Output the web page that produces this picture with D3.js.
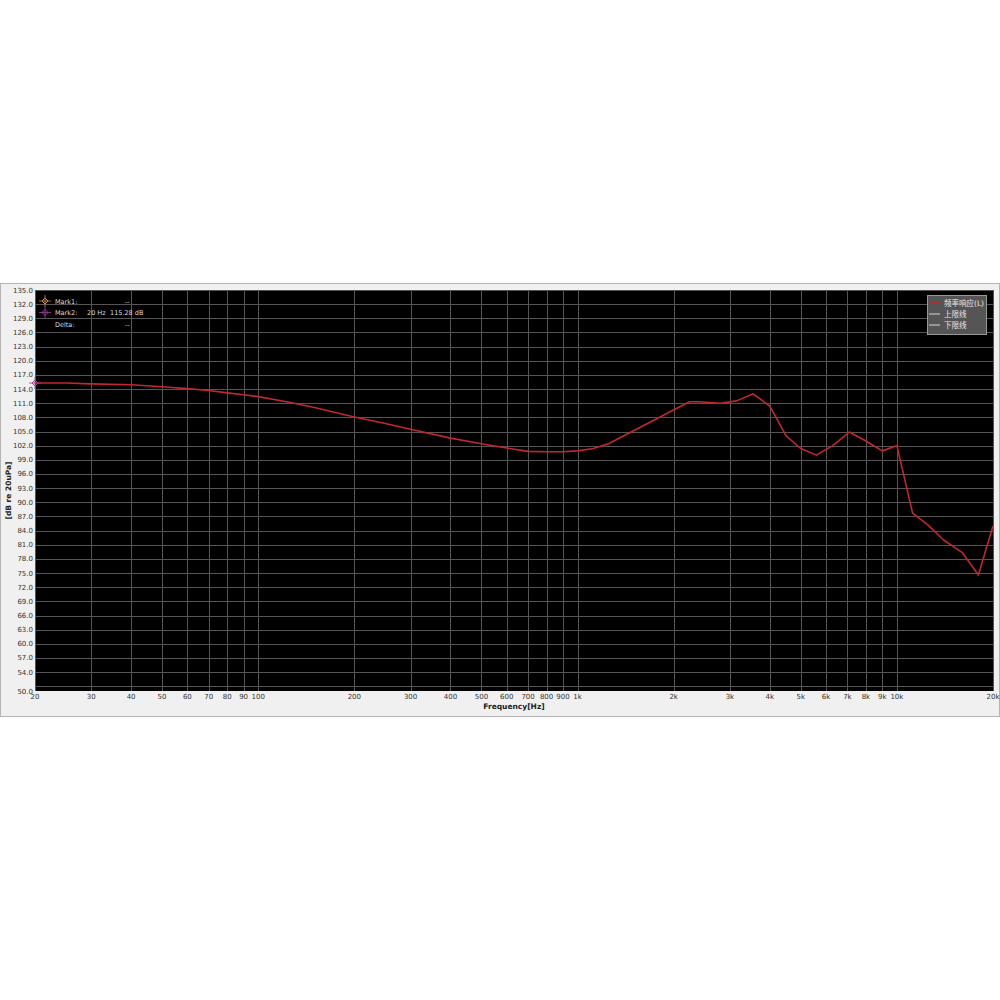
<!DOCTYPE html>
<html>
<head>
<meta charset="utf-8">
<style>
  body { margin: 0; background: #fff; }
  text { font-family: "DejaVu Sans", "Noto Sans CJK SC", sans-serif; }
</style>
</head>
<body>
<svg id="container" width="1000" height="1000"></svg>
<script src="https://cdn.jsdelivr.net/npm/d3@7"></script>
<script>
// frequency response
const freqs = [20, 25, 30, 40, 50, 60, 70, 80, 90, 100, 125, 150, 200, 250, 300, 400, 500, 600, 700, 800, 900, 1000, 1120, 1250,
    2240, 2400, 2800, 3150, 3550, 4000, 4500, 5000, 5600, 6300, 7100, 8000, 9000, 10000, 11200, 12500, 14000, 16000, 18000, 20000]
const levels = [115.28, 115.3, 115.1, 114.9, 114.5, 114.1, 113.7, 113.2, 112.8, 112.4, 111.2, 110.1, 108.1, 106.7, 105.5, 103.6, 102.4, 101.5, 100.8, 100.7, 100.7, 100.9, 101.4, 102.4,
    111.3, 111.3, 111.0, 111.5, 113.0, 110.4, 104.1, 101.4, 100.0, 102.0, 104.9, 103.0, 100.9, 102.0, 87.7, 85.2, 82.0, 79.4, 74.6, 85.0]

const xTicks = [20, 30, 40, 50, 60, 70, 80, 90, 100, 200, 300, 400, 500, 600, 700, 800, 900, 1000,
    2000, 3000, 4000, 5000, 6000, 7000, 8000, 9000, 10000, 20000]
const xTickLabels = ["20", "30", "40", "50", "60", "70", "80", "90", "100", "200", "300", "400", "500", "600", "700", "800", "900", "1k",
    "2k", "3k", "4k", "5k", "6k", "7k", "8k", "9k", "10k", "20k"]
const yGrid = d3.range(51, 136, 3)
const yTickLabels = d3.range(54, 136, 3).concat([50])

const legendNames = ["频率响应(L)", "上限线", "下限线"]
const legendColors = ["#c0282c", "#b8a4ac", "#b8a4ac"]

const markNames = ["Mark1:", "Mark2:", "Delta:"]
const markColors = ["#c88a3c", "#a03c98", null]
const markValues = [["", "--"], ["20 Hz", "115.28 dB"], ["", "--"]]

let svg = d3.select("#container")

let plotLeft = 35, plotRight = 993, plotTop = 290, plotBottom = 691

let x = d3.scaleLog().domain([20, 20000]).range([plotLeft, plotRight])
let y = d3.scaleLinear().domain([50, 135]).range([plotBottom, plotTop])

// outer panel
svg.append("rect")
    .attr("x", 0.5).attr("y", 283.5)
    .attr("width", 999).attr("height", 433)
    .attr("fill", "#f0f0f0")
    .attr("stroke", "#b4b4b4")

svg.append("rect")
    .attr("x", plotLeft).attr("y", plotTop)
    .attr("width", plotRight - plotLeft).attr("height", plotBottom - plotTop)
    .attr("fill", "#000")

let grid = svg.append("g").attr("stroke", "#555").attr("stroke-width", 1)
grid.selectAll(".vx").data(xTicks).enter().append("line")
    .attr("x1", d => Math.round(x(d)) + 0.5).attr("x2", d => Math.round(x(d)) + 0.5)
    .attr("y1", plotTop).attr("y2", plotBottom)
grid.selectAll(".hy").data(yGrid).enter().append("line")
    .attr("x1", plotLeft).attr("x2", plotRight)
    .attr("y1", d => Math.round(y(d)) + 0.5).attr("y2", d => Math.round(y(d)) + 0.5)

// y labels
svg.append("g").selectAll("text").data(yTickLabels).enter().append("text")
    .attr("x", 33).attr("y", d => y(d) + 2.5)
    .attr("text-anchor", "end")
    .attr("font-size", 7).attr("fill", "#333")
    .text(d => d.toFixed(1))

// x labels
svg.append("g").selectAll("text").data(xTicks).enter().append("text")
    .attr("x", d => x(d)).attr("y", plotBottom + 8)
    .attr("text-anchor", "middle")
    .attr("font-size", 7).attr("fill", "#333")
    .text((d, i) => xTickLabels[i])

svg.append("text")
    .attr("x", 514).attr("y", 709)
    .attr("text-anchor", "middle")
    .attr("font-size", 7.5).attr("font-weight", "bold").attr("fill", "#222")
    .text("Frequency[Hz]")

svg.append("text")
    .attr("transform", "translate(11," + ((plotTop + plotBottom) / 2) + ") rotate(-90)")
    .attr("text-anchor", "middle")
    .attr("font-size", 7.5).attr("font-weight", "bold").attr("fill", "#222")
    .text("[dB re 20uPa]")

// curve
let points = freqs.map((f, i) => [f, levels[i]])
let line = d3.line().x(d => x(d[0])).y(d => y(d[1]))
svg.append("path")
    .datum(points)
    .attr("d", line)
    .attr("fill", "none")
    .attr("stroke", "#c0282c")
    .attr("stroke-width", 1.6)
    .attr("stroke-linejoin", "round")

function markIcon(g, cx, cy, color) {
    g.append("path")
        .attr("d", `M${cx - 3},${cy} L${cx},${cy - 3} L${cx + 3},${cy} L${cx},${cy + 3} Z`)
        .attr("fill", "none").attr("stroke", color).attr("stroke-width", 1)
    g.append("path")
        .attr("d", `M${cx - 6},${cy} H${cx + 6} M${cx},${cy - 6} V${cy + 6}`)
        .attr("stroke", color).attr("stroke-width", 0.8)
}

// Mark2 on the curve at 20 Hz
markIcon(svg, x(freqs[0]), y(levels[0]), markColors[1])

// marker readout
let marks = svg.append("g")
markNames.forEach((name, i) => {
    let cy = 301 + i * 11.5
    if (markColors[i]) markIcon(marks, 45, cy, markColors[i])
    marks.append("text").attr("x", 55).attr("y", cy + 2.5)
        .attr("font-size", 6.5).attr("fill", "#ddd").text(name)
    marks.append("text").attr("x", 87).attr("y", cy + 2.5)
        .attr("font-size", 6.5).attr("fill", "#ddd").text(markValues[i][0])
    marks.append("text").attr("x", markValues[i][0] ? 110 : 125).attr("y", cy + 2.5)
        .attr("font-size", 6.5).attr("fill", "#ddd").text(markValues[i][1])
})

// legend
let legend = svg.append("g")
legend.append("rect")
    .attr("x", 927.5).attr("y", 295.5)
    .attr("width", 59).attr("height", 39)
    .attr("fill", "#555").attr("stroke", "#999")
legendNames.forEach((name, i) => {
    let cy = 303 + i * 11
    legend.append("line")
        .attr("x1", 929).attr("x2", 940).attr("y1", cy).attr("y2", cy)
        .attr("stroke", legendColors[i]).attr("stroke-width", 1.5)
    legend.append("text")
        .attr("x", 944).attr("y", cy + 3)
        .attr("font-size", 7.5).attr("fill", "#e8e8e8")
        .text(name)
})
</script>
</body>
</html>
